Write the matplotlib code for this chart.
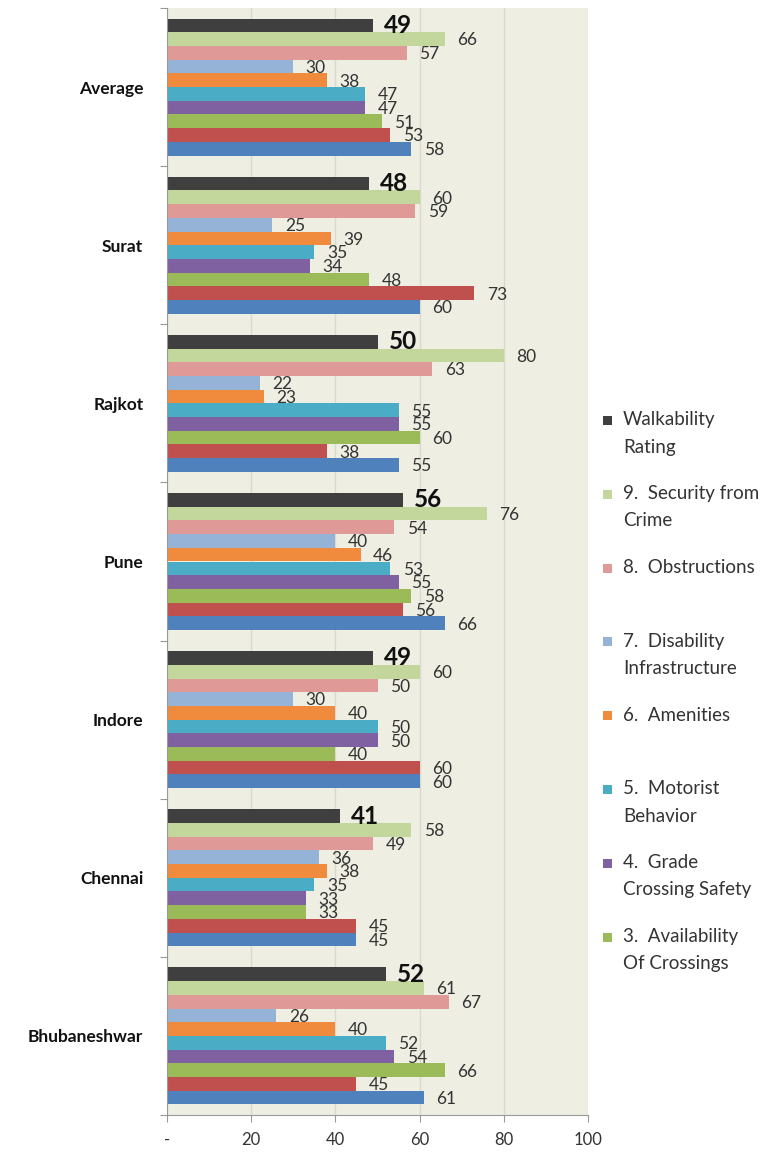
import numpy as np
import matplotlib
matplotlib.use("Agg")
import matplotlib.pyplot as plt
from matplotlib.patches import Rectangle

plt.rcParams['font.family'] = ['Lato', 'DejaVu Sans']

cities = ['Average', 'Surat', 'Rajkot', 'Pune', 'Indore', 'Chennai', 'Bhubaneshwar']

# series top-to-bottom inside each group
walkability = [49, 48, 50, 56, 49, 41, 52]
security = [66, 60, 80, 76, 60, 58, 61]
obstructions = [57, 59, 63, 54, 50, 49, 67]
disability = [30, 25, 22, 40, 30, 36, 26]
amenities = [38, 39, 23, 46, 40, 38, 40]
motorist = [47, 35, 55, 53, 50, 35, 52]
grade_crossing = [47, 34, 55, 55, 50, 33, 54]
crossings = [51, 48, 60, 58, 40, 33, 66]
param2 = [53, 73, 38, 56, 60, 45, 45]
param1 = [58, 60, 55, 66, 60, 45, 61]

series = [walkability, security, obstructions, disability, amenities,
          motorist, grade_crossing, crossings, param2, param1]
names = ['Walkability\nRating', '9.  Security from\nCrime', '8.  Obstructions',
         '7.  Disability\nInfrastructure', '6.  Amenities', '5.  Motorist\nBehavior',
         '4.  Grade\nCrossing Safety', '3.  Availability\nOf Crossings',
         '2.  Availability of\nWalking Paths', '1.  Walking Path\nModal Conflict']
colors = ['#3f3f3f', '#c3d69b', '#df9a98', '#95b3d7', '#f08a3c',
          '#4bacc6', '#7f60a0', '#9bbb59', '#c0504d', '#4f81bd']

W, H = 771, 1156
fig = plt.figure(figsize=(W / 100, H / 100), dpi=100)
ax = fig.add_axes([167 / W, 1 - 1115 / H, (588 - 167) / W, (1115 - 8) / H])
ax.set_facecolor('#eeefe2')

bh = 0.0867
pad = (1 - bh * len(series)) / 2
for k, (vals, c) in enumerate(zip(series, colors)):
    y = np.arange(len(cities)) + pad + (k + 0.5) * bh
    ax.barh(y, vals, height=bh, color=c, edgecolor='none', zorder=2)
    for yy, v in zip(y, vals):
        if k == 0:
            ax.annotate(str(v), (v, yy), xytext=(8, 0), textcoords='offset points',
                        ha='left', va='center', fontsize=17.5, fontweight='bold',
                        color='#111111')
        else:
            ax.annotate(str(v), (v, yy), xytext=(9, -1), textcoords='offset points',
                        ha='left', va='center', fontsize=12.5, color='#333333')

ax.set_xlim(0, 100)
ax.set_ylim(len(cities), 0)
ax.set_xticks([0, 20, 40, 60, 80, 100])
ax.set_xticklabels(['-', '20', '40', '60', '80', '100'], fontsize=12, color='#333333')
ax.xaxis.grid(True, color='#d9dacd', linewidth=1, zorder=0)
ax.set_axisbelow(True)

ax.set_yticks(np.arange(len(cities) + 1))
ax.set_yticklabels([])
ax.set_yticks(np.arange(len(cities)) + 0.5, minor=True)
ax.set_yticklabels(cities, minor=True, fontsize=12.5, fontweight='bold', color='#111111')
ax.tick_params(axis='y', which='minor', length=0, pad=17)
ax.tick_params(axis='y', which='major', length=5, color='#999999')
ax.tick_params(axis='x', length=5, color='#999999', pad=7)

for s in ['top', 'right']:
    ax.spines[s].set_visible(False)
for s in ['left', 'bottom']:
    ax.spines[s].set_color('#999999')

# legend, drawn like the clipped Excel legend (only first 8 entries fit)
for i in range(8):
    y0 = 420 + i * 73.8
    fig.patches.append(Rectangle((603 / W, 1 - (y0 + 5) / H), 9 / W, 9 / H,
                                 transform=fig.transFigure, facecolor=colors[i],
                                 edgecolor='none'))
    for j, line in enumerate(names[i].split('\n')):
        fig.text(623 / W, 1 - (y0 + j * 27) / H, line, fontsize=13.5,
                 ha='left', va='center', color='#333333')

fig.savefig('out.png', dpi=100)
